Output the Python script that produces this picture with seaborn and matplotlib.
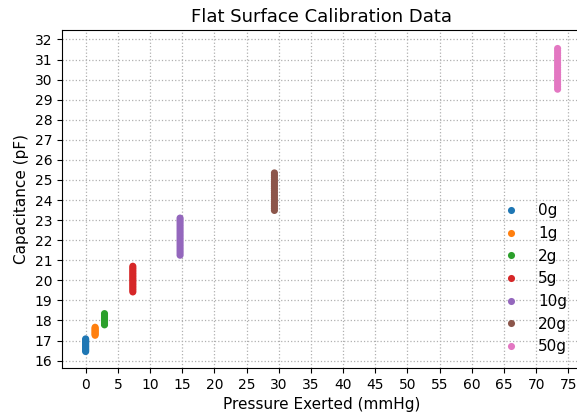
import matplotlib
matplotlib.use("Agg")
import matplotlib.pyplot as plt
import seaborn as sns
import pandas as pd

labels = ["0g", "1g", "2g", "5g", "10g", "20g", "50g"]
pressures = [0.0, 1.47, 2.93, 7.33, 14.67, 29.33, 73.33]

cap_0g = [16.45, 16.50, 16.55, 16.60, 16.66, 16.71, 16.76, 16.82, 16.88, 16.93, 16.98, 17.03, 17.08]
cap_1g = [17.26, 17.31, 17.36, 17.41, 17.46, 17.51, 17.56, 17.61, 17.66]
cap_2g = [17.78, 17.83, 17.88, 17.94, 17.99, 18.05, 18.10, 18.16, 18.22, 18.28, 18.34]
cap_5g = [19.42, 19.50, 19.58, 19.66, 19.74, 19.82, 19.90, 19.98, 20.06, 20.14,
          20.22, 20.30, 20.38, 20.46, 20.54, 20.62, 20.70]
cap_10g = [21.25, 21.36, 21.47, 21.58, 21.69, 21.80, 21.91, 22.02, 22.13, 22.24,
           22.35, 22.46, 22.57, 22.68, 22.79, 22.90, 23.00, 23.10]
cap_20g = [23.48, 23.59, 23.70, 23.81, 23.92, 24.03, 24.14, 24.25, 24.36, 24.47,
           24.58, 24.69, 24.80, 24.91, 25.02, 25.13, 25.24, 25.35]
cap_50g = [29.52, 29.64, 29.76, 29.88, 30.00, 30.12, 30.24, 30.36, 30.48, 30.60,
           30.72, 30.84, 30.96, 31.08, 31.20, 31.32, 31.44, 31.55]

series = [cap_0g, cap_1g, cap_2g, cap_5g, cap_10g, cap_20g, cap_50g]

rows = []
for lab, p, vals in zip(labels, pressures, series):
    for v in vals:
        rows.append({"Pressure": p, "Capacitance": v, "Weight": lab})
df = pd.DataFrame(rows)

fig = plt.figure(figsize=(5.77, 4.19), dpi=100)
ax = fig.add_axes([0.1075, 0.1217, 0.8995, 0.8067])

sns.scatterplot(data=df, x="Pressure", y="Capacitance", hue="Weight",
                hue_order=labels, palette="tab10", s=26, linewidth=0, ax=ax)

ax.set_xticks(range(0, 80, 5))
ax.set_yticks(range(16, 33, 1))
ax.set_xlim(-3.67, 76.97)
ax.set_ylim(15.63, 32.47)
ax.tick_params(labelsize=10)
ax.grid(True, linestyle=":", color="#b0b0b0", linewidth=0.9)
ax.set_axisbelow(True)
ax.set_xlabel("Pressure Exerted (mmHg)", fontsize=11)
ax.set_ylabel("Capacitance (pF)", fontsize=11)
ax.set_title("Flat Surface Calibration Data", fontsize=13)
ax.legend(loc="lower right", frameon=False, fontsize=11, title=None)

fig.savefig("out.png", dpi=100)
